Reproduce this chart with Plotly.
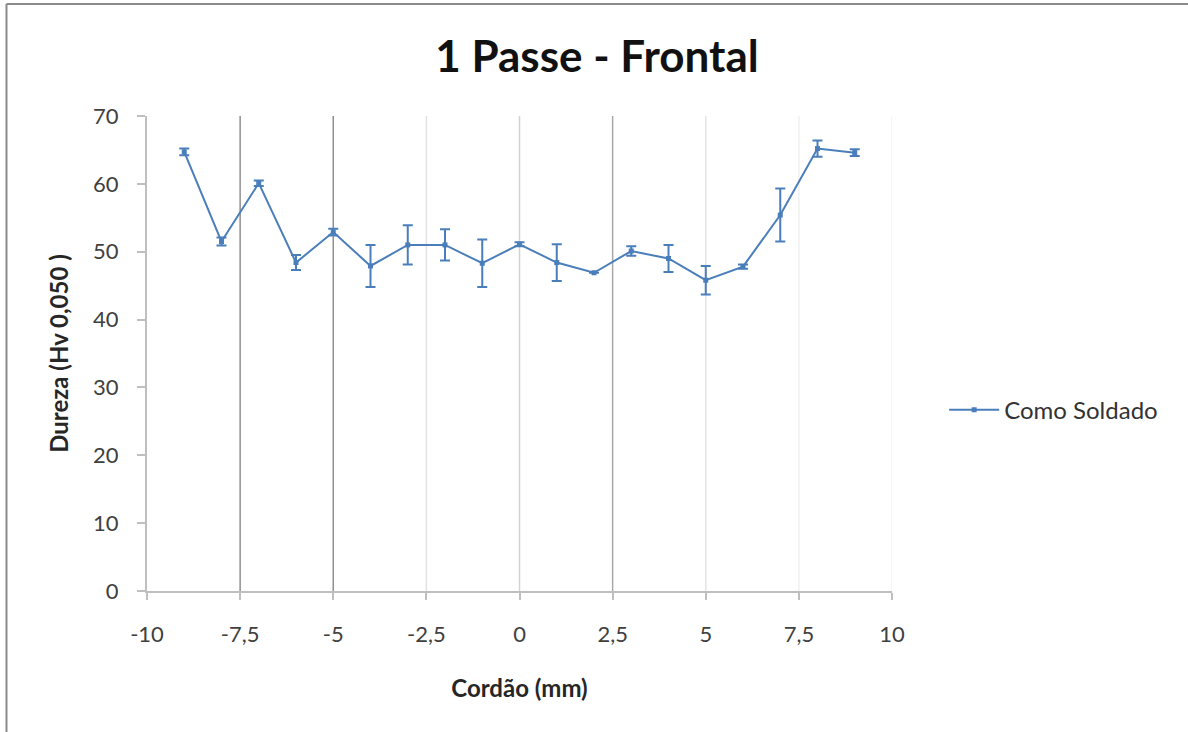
import plotly.graph_objects as go

# Data
x_mm = [-9, -8, -7, -6, -5, -4, -3, -2, -1, 0, 1, 2, 3, 4, 5, 6, 7, 8, 9]
dureza = [64.7, 51.5, 60.1, 48.4, 52.9, 47.9, 51.0, 51.0, 48.3, 51.1, 48.4, 46.9, 50.1, 49.0, 45.8, 47.8, 55.4, 65.2, 64.6]
erro = [0.5, 0.6, 0.4, 1.1, 0.5, 3.1, 2.9, 2.3, 3.5, 0.3, 2.7, 0.0, 0.7, 2.0, 2.1, 0.3, 3.9, 1.2, 0.5]

x_ticks = [-10, -7.5, -5, -2.5, 0, 2.5, 5, 7.5, 10]
x_tick_labels = ["-10", "-7,5", "-5", "-2,5", "0", "2,5", "5", "7,5", "10"]
y_ticks = [0, 10, 20, 30, 40, 50, 60, 70]
grid_colors = ["#8f8f8f", "#8f8f8f", "#e2e2e2", "#d2d2d2", "#a8a8a8", "#e4e4e4", "#f0f0f0", "#f3f3f3"]

FONT = "Lato, 'Open Sans', sans-serif"
BLUE = "#4a7ebb"

fig = go.Figure()

# vertical gridlines (drawn behind data)
for xv, col in zip(x_ticks[1:], grid_colors):
    fig.add_vline(x=xv, line=dict(color=col, width=1.5), layer="below")

fig.add_trace(go.Scatter(
    x=x_mm, y=dureza,
    mode="lines+markers",
    name="Como Soldado",
    line=dict(color=BLUE, width=2),
    marker=dict(symbol="square", size=5, color=BLUE),
    error_y=dict(type="data", array=erro, visible=True, color=BLUE, thickness=2, width=5),
))

# outer chart frame (only left and top edges visible in the crop)
fig.add_shape(type="line", xref="paper", yref="paper",
              x0=-0.1886, x1=-0.1886, y0=1.236, y1=-0.4,
              line=dict(color="#8a8a8a", width=2))
fig.add_shape(type="line", xref="paper", yref="paper",
              x0=-0.1886, x1=1.45, y0=1.236, y1=1.236,
              line=dict(color="#8a8a8a", width=2))

fig.update_layout(
    width=1188, height=732,
    margin=dict(l=147, r=296, t=116, b=141),
    paper_bgcolor="white", plot_bgcolor="white",
    font=dict(family=FONT, color="#404040", size=22),
    title=dict(text="<b>1 Passe - Frontal</b>", x=0.5025, xref="container", xanchor="center",
               y=0.922, yref="container", yanchor="middle",
               font=dict(family=FONT, size=44, color="#111111")),
    showlegend=True,
    legend=dict(x=1.07, y=0.381, xanchor="left", yanchor="middle",
                font=dict(family=FONT, size=24, color="#333333"),
                bgcolor="rgba(0,0,0,0)", itemwidth=50),
    xaxis=dict(
        range=[-10, 10], tickvals=x_ticks, ticktext=x_tick_labels,
        showgrid=False, zeroline=False,
        showline=True, linecolor="#bfbfbf", linewidth=2,
        ticks="outside", ticklen=7, tickcolor="#bfbfbf", tickwidth=2,
        ticklabelstandoff=16,
        tickfont=dict(family=FONT, size=22, color="#404040"),
        title=dict(text="<b>Cordão (mm)</b>", standoff=34,
                   font=dict(family=FONT, size=24, color="#262626")),
    ),
    yaxis=dict(
        range=[0, 70], tickvals=y_ticks,
        showgrid=False, zeroline=False,
        showline=True, linecolor="#bfbfbf", linewidth=2,
        ticks="outside", ticklen=8, tickcolor="#bfbfbf", tickwidth=2,
        ticklabelstandoff=14,
        tickfont=dict(family=FONT, size=22, color="#404040"),
        title=dict(text="<b>Dureza (Hv 0,050 )</b>", standoff=18,
                   font=dict(family=FONT, size=24, color="#262626")),
    ),
)

fig.write_html("out.html")
